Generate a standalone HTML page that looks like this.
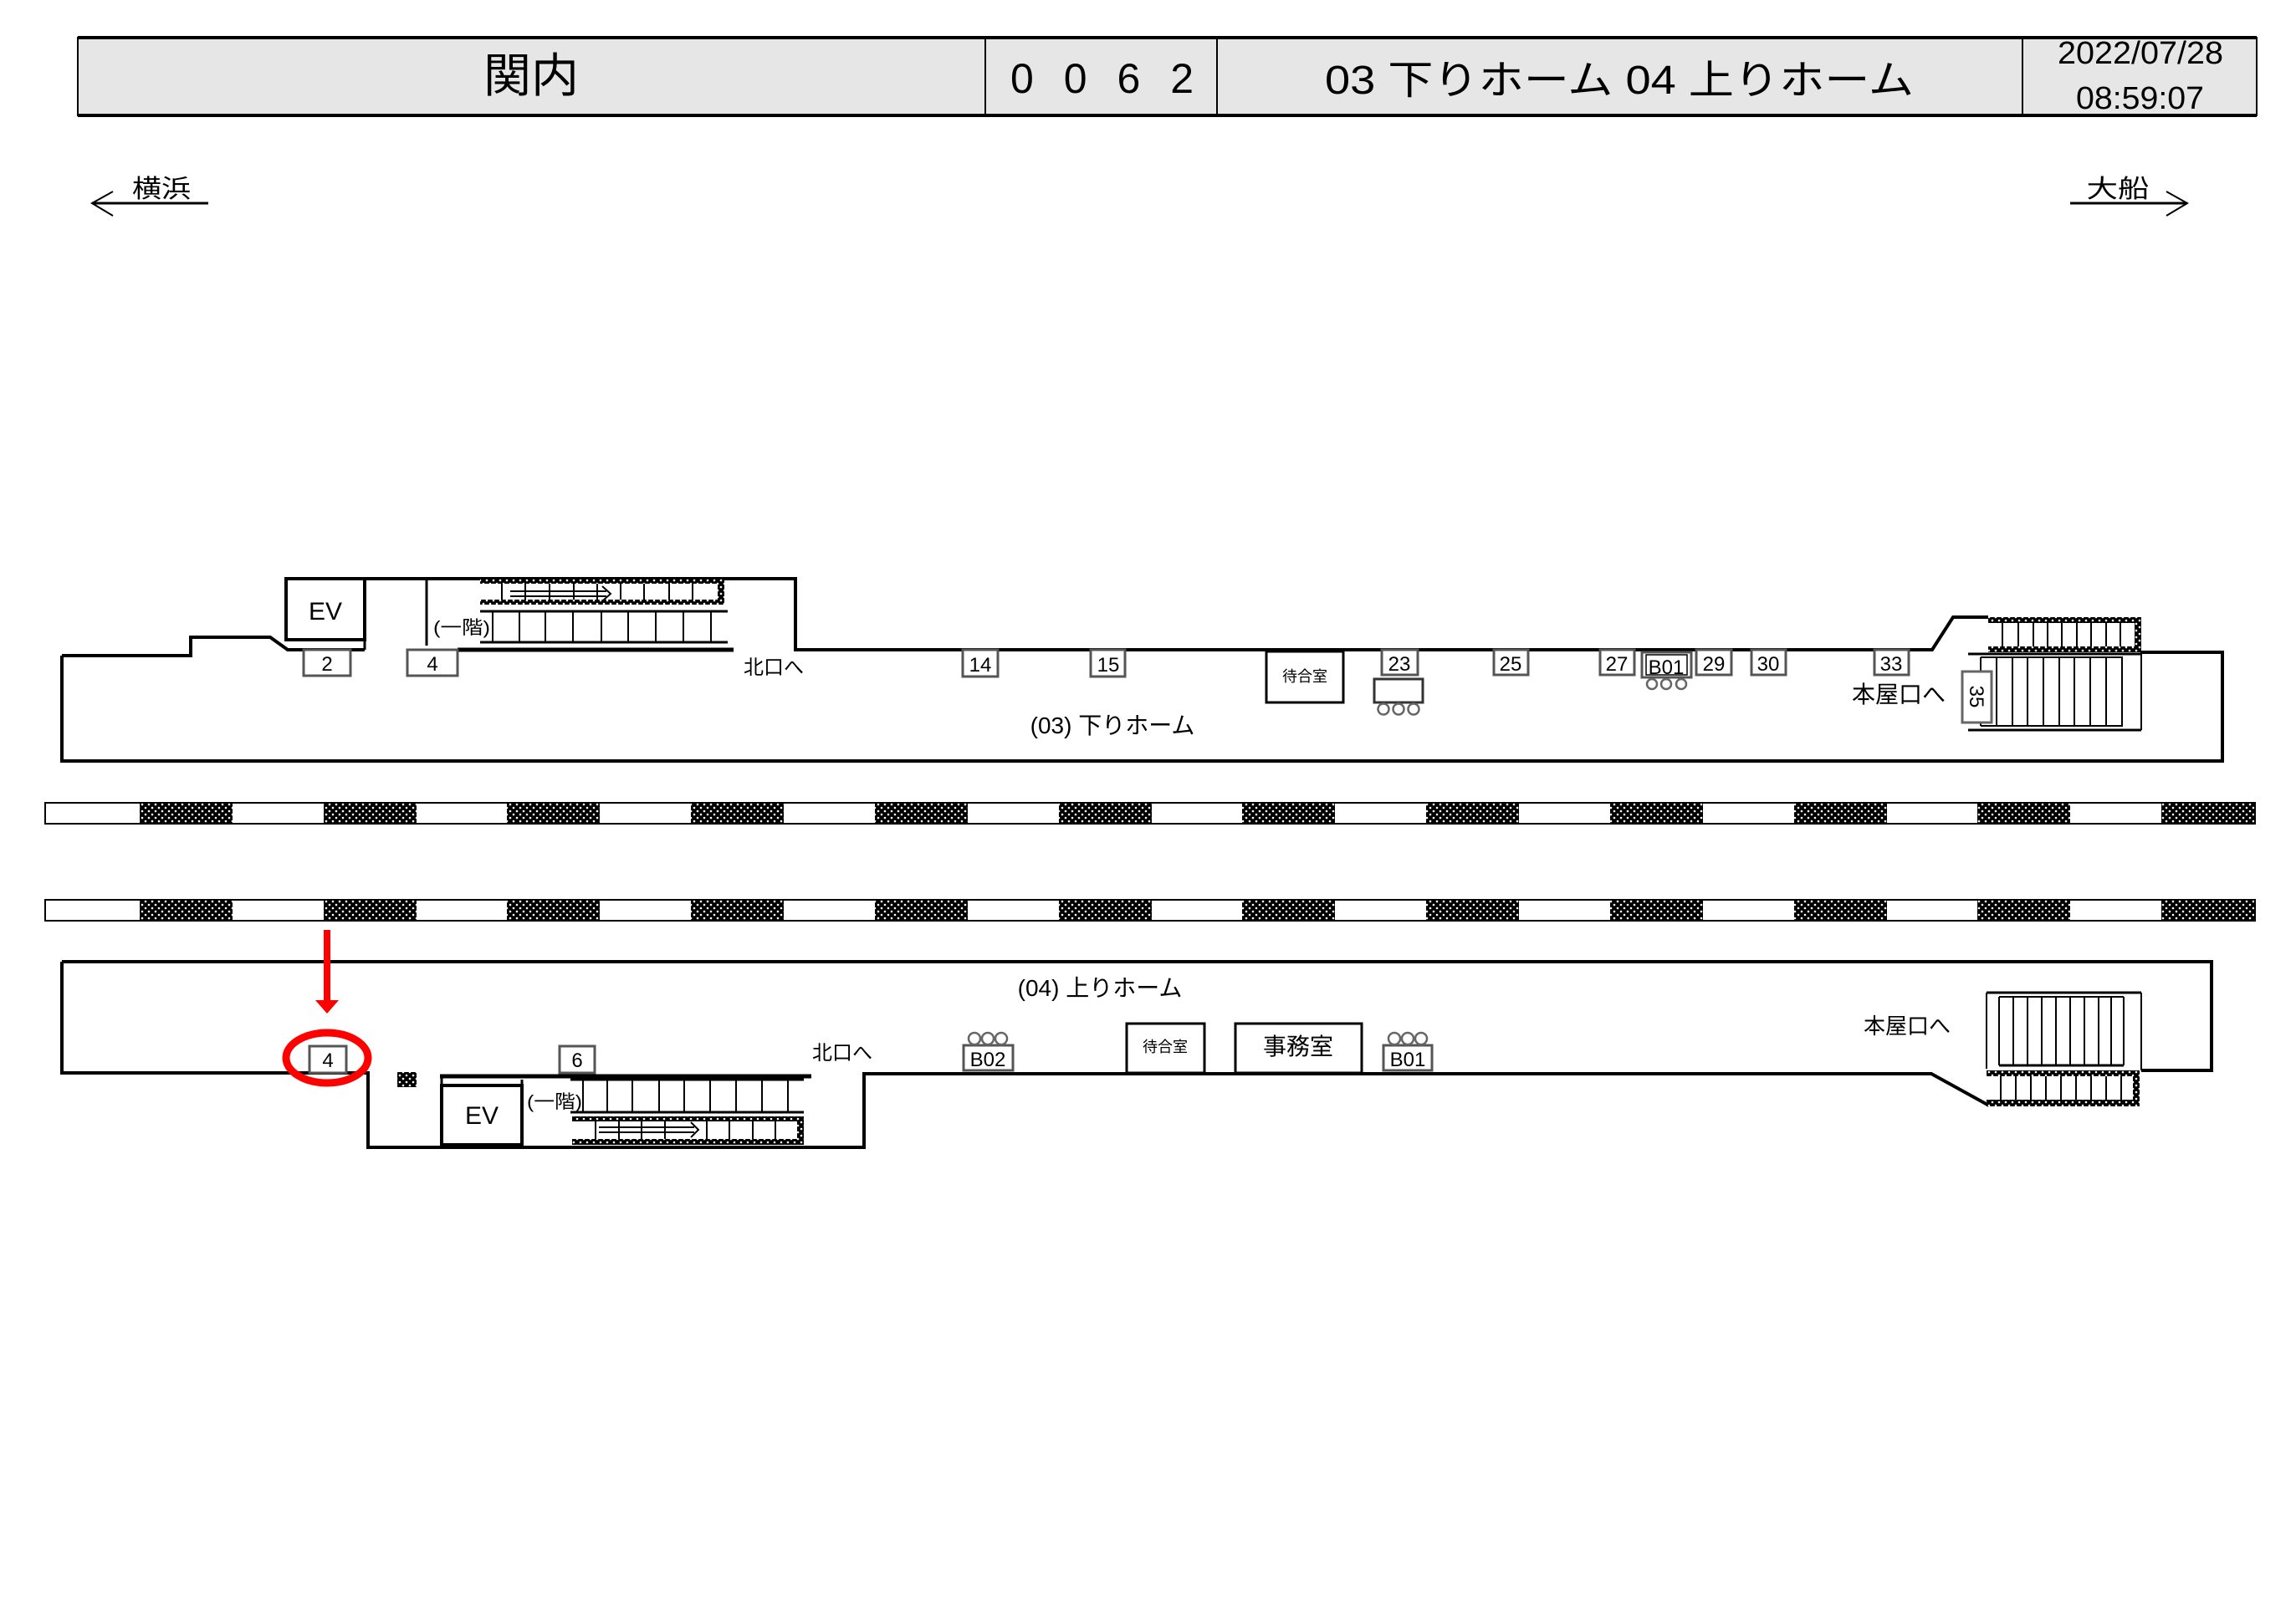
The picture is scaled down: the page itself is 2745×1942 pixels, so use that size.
<!DOCTYPE html>
<html><head><meta charset="utf-8"><style>
html,body{margin:0;padding:0;background:#fff}
svg{display:block}
text{font-family:"Liberation Sans","Noto Sans CJK JP",sans-serif;fill:#000}
</style></head><body>
<svg width="2745" height="1942" viewBox="0 0 2745 1942" xmlns="http://www.w3.org/2000/svg">
<defs>
<pattern id="dot" width="8" height="8" patternUnits="userSpaceOnUse">
<rect width="8" height="8" fill="#000"/><circle cx="2" cy="2" r="1.3" fill="#fff"/><circle cx="6" cy="6" r="1.3" fill="#fff"/>
</pattern>
</defs>
<!-- Header -->
<rect x="93" y="45" width="2605" height="93" fill="#e6e6e6" stroke="#000" stroke-width="2"/>
<line x1="93" y1="45" x2="2698" y2="45" stroke="#000" stroke-width="4"/>
<line x1="93" y1="138" x2="2698" y2="138" stroke="#000" stroke-width="4"/>
<line x1="1178" y1="45" x2="1178" y2="138" stroke="#000" stroke-width="2"/>
<line x1="1455" y1="45" x2="1455" y2="138" stroke="#000" stroke-width="2"/>
<line x1="2418" y1="45" x2="2418" y2="138" stroke="#000" stroke-width="2"/>
<text x="635" y="110" font-size="56" text-anchor="middle" textLength="114" lengthAdjust="spacingAndGlyphs">関内</text>
<text x="1208" y="111" font-size="50" textLength="219" lengthAdjust="spacing">0062</text>
<text x="1584" y="112" font-size="48" textLength="704" lengthAdjust="spacingAndGlyphs">03 下りホーム 04 上りホーム</text>
<text x="2460" y="76" font-size="38" textLength="198" lengthAdjust="spacingAndGlyphs">2022/07/28</text>
<text x="2482" y="130" font-size="38" textLength="153" lengthAdjust="spacingAndGlyphs">08:59:07</text>
<!-- direction arrows -->
<text x="193" y="236" font-size="30" text-anchor="middle" textLength="70" lengthAdjust="spacingAndGlyphs">横浜</text>
<polyline points="135,229 110,243 135,258" fill="none" stroke="#000" stroke-width="2"/>
<line x1="110" y1="243" x2="249" y2="243" stroke="#000" stroke-width="3"/>
<text x="2532" y="236" font-size="30" text-anchor="middle" textLength="75" lengthAdjust="spacingAndGlyphs">大船</text>
<polyline points="2590,229 2615,243 2590,258" fill="none" stroke="#000" stroke-width="2"/>
<line x1="2475" y1="243" x2="2615" y2="243" stroke="#000" stroke-width="3"/>

<!-- Upper platform outline -->
<polyline points="74,784 74,910 2657,910 2657,780 2560,780" fill="none" stroke="#000" stroke-width="4"/>
<polyline points="74,784 228,784 228,762 323,762 344,777 436,777" fill="none" stroke="#000" stroke-width="4"/>
<line x1="547" y1="777" x2="877" y2="777" stroke="#000" stroke-width="5"/>
<polyline points="342,692 951,692 951,777 2310,777 2335,738 2377,738" fill="none" stroke="#000" stroke-width="4"/>
<!-- EV upper -->
<rect x="342" y="692" width="94" height="73" fill="#fff" stroke="#000" stroke-width="4"/>
<line x1="342" y1="777" x2="436" y2="777" stroke="#000" stroke-width="3"/>
<line x1="436" y1="765" x2="436" y2="777" stroke="#000" stroke-width="3"/>
<text x="389" y="741" font-size="30" text-anchor="middle">EV</text>
<line x1="510" y1="692" x2="510" y2="772" stroke="#000" stroke-width="3"/>
<!-- upper escalator -->
<rect x="574" y="692" width="6" height="1" fill="#000"/>
<rect x="574" y="692" width="292" height="31" fill="none"/>
<rect x="574" y="692" width="292" height="6" fill="url(#dot)"/>
<rect x="574" y="717" width="292" height="6" fill="url(#dot)"/>
<rect x="858" y="692" width="8" height="31" fill="url(#dot)"/>
<g stroke="#000" stroke-width="2">
<line x1="600" y1="698" x2="600" y2="717"/><line x1="628" y1="698" x2="628" y2="717"/><line x1="657" y1="698" x2="657" y2="717"/><line x1="686" y1="698" x2="686" y2="717"/><line x1="714" y1="698" x2="714" y2="717"/><line x1="742" y1="698" x2="742" y2="717"/><line x1="770" y1="698" x2="770" y2="717"/><line x1="800" y1="698" x2="800" y2="717"/><line x1="828" y1="698" x2="828" y2="717"/>
<line x1="610" y1="707" x2="725" y2="707"/><line x1="610" y1="713" x2="725" y2="713"/>
<polyline points="720,701 730,710 720,719" fill="none"/>
<!-- stairs upper -->
<line x1="574" y1="731" x2="870" y2="731" stroke-width="3"/><line x1="574" y1="768" x2="870" y2="768" stroke-width="3"/>
<line x1="589" y1="731" x2="589" y2="768"/><line x1="621" y1="731" x2="621" y2="768"/><line x1="652" y1="731" x2="652" y2="768"/><line x1="685" y1="731" x2="685" y2="768"/><line x1="719" y1="731" x2="719" y2="768"/><line x1="751" y1="731" x2="751" y2="768"/><line x1="784" y1="731" x2="784" y2="768"/><line x1="817" y1="731" x2="817" y2="768"/><line x1="850" y1="731" x2="850" y2="768"/>
</g>
<text x="552" y="758" font-size="22" text-anchor="middle" textLength="68" lengthAdjust="spacingAndGlyphs">(一階)</text>
<text x="925" y="806" font-size="24" text-anchor="middle">北口へ</text>

<!-- upper signs -->
<g fill="#fff" stroke="#555" stroke-width="3">
<rect x="363" y="777" width="56" height="31"/><rect x="487" y="777" width="60" height="31"/>
<rect x="1151" y="777" width="42" height="32"/><rect x="1304" y="777" width="41" height="32"/>
<rect x="1652" y="777" width="43" height="30"/><rect x="1786" y="777" width="41" height="30"/>
<rect x="1913" y="777" width="41" height="30"/><rect x="1963" y="780" width="59" height="30"/>
<rect x="2028" y="777" width="42" height="30"/><rect x="2094" y="777" width="41" height="30"/>
<rect x="2241" y="777" width="41" height="30"/>
</g>
<rect x="1968" y="783" width="49" height="24" fill="none" stroke="#000" stroke-width="1.5"/>
<g font-size="24" text-anchor="middle">
<text x="391" y="802">2</text><text x="517" y="802">4</text>
<text x="1172" y="803">14</text><text x="1325" y="803">15</text>
<text x="1673" y="802">23</text><text x="1806" y="802">25</text>
<text x="1933" y="802">27</text><text x="1992" y="806">B01</text>
<text x="2049" y="802">29</text><text x="2114" y="802">30</text>
<text x="2261" y="802">33</text>
</g>
<!-- waiting room upper -->
<rect x="1514" y="779" width="92" height="61" fill="#fff" stroke="#000" stroke-width="3"/>
<text x="1560" y="815" font-size="18" text-anchor="middle">待合室</text>
<rect x="1643" y="812" width="58" height="28" fill="#fff" stroke="#333" stroke-width="3"/>
<g fill="#fff" stroke="#666" stroke-width="2.5">
<circle cx="1654" cy="848" r="6.5"/><circle cx="1672" cy="848" r="6.5"/><circle cx="1690" cy="848" r="6.5"/>
<circle cx="1975" cy="818" r="6"/><circle cx="1992" cy="818" r="6"/><circle cx="2010" cy="818" r="6"/>
</g>
<text x="1330" y="877" font-size="28" text-anchor="middle">(03) 下りホーム</text>
<text x="2270" y="840" font-size="28" text-anchor="middle">本屋口へ</text>
<!-- upper right escalator & stairs -->
<rect x="2377" y="738" width="183" height="7" fill="url(#dot)"/>
<rect x="2377" y="773" width="183" height="7" fill="url(#dot)"/>
<rect x="2552" y="738" width="8" height="42" fill="url(#dot)"/>
<g stroke="#000" stroke-width="2">
<line x1="2394" y1="745" x2="2394" y2="773"/><line x1="2413" y1="745" x2="2413" y2="773"/><line x1="2431" y1="745" x2="2431" y2="773"/><line x1="2448" y1="745" x2="2448" y2="773"/><line x1="2465" y1="745" x2="2465" y2="773"/><line x1="2483" y1="745" x2="2483" y2="773"/><line x1="2500" y1="745" x2="2500" y2="773"/><line x1="2518" y1="745" x2="2518" y2="773"/><line x1="2535" y1="745" x2="2535" y2="773"/>
<line x1="2353" y1="782" x2="2560" y2="782" stroke-width="3"/><line x1="2353" y1="873" x2="2560" y2="873" stroke-width="3"/><line x1="2560" y1="780" x2="2560" y2="873"/>
<polyline points="2368,786 2537,786 2537,868 2368,868" fill="none"/>
<line x1="2368" y1="786" x2="2368" y2="868"/>
<line x1="2387" y1="786" x2="2387" y2="868"/><line x1="2406" y1="786" x2="2406" y2="868"/><line x1="2424" y1="786" x2="2424" y2="868"/><line x1="2443" y1="786" x2="2443" y2="868"/><line x1="2462" y1="786" x2="2462" y2="868"/><line x1="2480" y1="786" x2="2480" y2="868"/><line x1="2499" y1="786" x2="2499" y2="868"/><line x1="2518" y1="786" x2="2518" y2="868"/>
</g>
<rect x="2346" y="803" width="35" height="61" fill="#fff" stroke="#666" stroke-width="3"/>
<text x="0" y="0" font-size="24" text-anchor="middle" transform="translate(2355,833) rotate(90)">35</text>

<!-- tracks -->
<rect x="54" y="960" width="2642" height="25" fill="#fff" stroke="#000" stroke-width="2"/>
<rect x="54" y="1076" width="2642" height="25" fill="#fff" stroke="#000" stroke-width="2"/>
<g fill="url(#dot)">
<rect x="167" y="960" width="111" height="25"/><rect x="387" y="960" width="111" height="25"/><rect x="606" y="960" width="111" height="25"/><rect x="826" y="960" width="111" height="25"/><rect x="1046" y="960" width="111" height="25"/><rect x="1266" y="960" width="111" height="25"/><rect x="1485" y="960" width="111" height="25"/><rect x="1705" y="960" width="111" height="25"/><rect x="1925" y="960" width="111" height="25"/><rect x="2145" y="960" width="111" height="25"/><rect x="2364" y="960" width="111" height="25"/><rect x="2584" y="960" width="111" height="25"/>
<rect x="167" y="1076" width="111" height="25"/><rect x="387" y="1076" width="111" height="25"/><rect x="606" y="1076" width="111" height="25"/><rect x="826" y="1076" width="111" height="25"/><rect x="1046" y="1076" width="111" height="25"/><rect x="1266" y="1076" width="111" height="25"/><rect x="1485" y="1076" width="111" height="25"/><rect x="1705" y="1076" width="111" height="25"/><rect x="1925" y="1076" width="111" height="25"/><rect x="2145" y="1076" width="111" height="25"/><rect x="2364" y="1076" width="111" height="25"/><rect x="2584" y="1076" width="111" height="25"/>
</g>

<!-- lower platform -->
<polyline points="74,1150 2644,1150 2644,1280 2560,1280" fill="none" stroke="#000" stroke-width="4"/>
<polyline points="74,1150 74,1283 440,1283 440,1372 1033,1372 1033,1284 2309,1284 2378,1322" fill="none" stroke="#000" stroke-width="4"/>
<line x1="526" y1="1287" x2="970" y2="1287" stroke="#000" stroke-width="5"/>
<rect x="475" y="1282" width="23" height="18" fill="url(#dot)"/>
<rect x="528" y="1298" width="96" height="71" fill="#fff" stroke="#000" stroke-width="4"/>
<line x1="528" y1="1287" x2="528" y2="1298" stroke="#000" stroke-width="3"/>
<line x1="624" y1="1291" x2="624" y2="1298" stroke="#000" stroke-width="3"/>
<text x="576" y="1344" font-size="30" text-anchor="middle">EV</text>
<text x="663" y="1325" font-size="22" text-anchor="middle" textLength="66" lengthAdjust="spacingAndGlyphs">(一階)</text>
<g stroke="#000" stroke-width="2">
<line x1="682" y1="1291" x2="961" y2="1291" stroke-width="3"/><line x1="682" y1="1330" x2="961" y2="1330" stroke-width="3"/>
<line x1="697" y1="1291" x2="697" y2="1330"/><line x1="726" y1="1291" x2="726" y2="1330"/><line x1="756" y1="1291" x2="756" y2="1330"/><line x1="788" y1="1291" x2="788" y2="1330"/><line x1="818" y1="1291" x2="818" y2="1330"/><line x1="849" y1="1291" x2="849" y2="1330"/><line x1="880" y1="1291" x2="880" y2="1330"/><line x1="911" y1="1291" x2="911" y2="1330"/><line x1="942" y1="1291" x2="942" y2="1330"/>
</g>
<rect x="684" y="1335" width="277" height="6" fill="url(#dot)"/>
<rect x="684" y="1362" width="277" height="7" fill="url(#dot)"/>
<rect x="953" y="1335" width="8" height="34" fill="url(#dot)"/>
<g stroke="#000" stroke-width="2">
<line x1="712" y1="1341" x2="712" y2="1362"/><line x1="740" y1="1341" x2="740" y2="1362"/><line x1="767" y1="1341" x2="767" y2="1362"/><line x1="795" y1="1341" x2="795" y2="1362"/><line x1="845" y1="1341" x2="845" y2="1362"/><line x1="872" y1="1341" x2="872" y2="1362"/><line x1="900" y1="1341" x2="900" y2="1362"/><line x1="927" y1="1341" x2="927" y2="1362"/>
<line x1="716" y1="1348" x2="830" y2="1348"/><line x1="716" y1="1354" x2="830" y2="1354"/>
<polyline points="826,1342 835,1351 826,1360" fill="none"/>
</g>
<g fill="#fff" stroke="#555" stroke-width="3">
<rect x="370" y="1251" width="44" height="32"/><rect x="669" y="1251" width="42" height="32"/>
<rect x="1152" y="1250" width="59" height="30"/><rect x="1654" y="1250" width="58" height="30"/>
</g>
<g font-size="24" text-anchor="middle">
<text x="392" y="1276">4</text><text x="690" y="1276">6</text>
<text x="1181" y="1275">B02</text><text x="1683" y="1275">B01</text>
</g>
<g fill="#fff" stroke="#666" stroke-width="2.5">
<circle cx="1165" cy="1242" r="7"/><circle cx="1181" cy="1242" r="7"/><circle cx="1197" cy="1242" r="7"/>
<circle cx="1667" cy="1242" r="7"/><circle cx="1683" cy="1242" r="7"/><circle cx="1699" cy="1242" r="7"/>
</g>
<rect x="1347" y="1224" width="93" height="59" fill="#fff" stroke="#000" stroke-width="3"/>
<text x="1393" y="1258" font-size="18" text-anchor="middle">待合室</text>
<rect x="1477" y="1224" width="151" height="59" fill="#fff" stroke="#000" stroke-width="3"/>
<text x="1552" y="1261" font-size="28" text-anchor="middle">事務室</text>
<text x="1007" y="1267" font-size="24" text-anchor="middle">北口へ</text>
<text x="1315" y="1191" font-size="28" text-anchor="middle">(04) 上りホーム</text>
<text x="2280" y="1236" font-size="26" text-anchor="middle">本屋口へ</text>
<!-- lower right stairs / escalator -->
<g stroke="#000" stroke-width="2">
<line x1="2375" y1="1187" x2="2560" y2="1187" stroke-width="3"/><line x1="2375" y1="1187" x2="2375" y2="1278"/><line x1="2560" y1="1187" x2="2560" y2="1280"/>
<line x1="2390" y1="1192" x2="2539" y2="1192"/><line x1="2390" y1="1274" x2="2539" y2="1274" stroke-width="3"/><line x1="2539" y1="1192" x2="2539" y2="1274"/>
<line x1="2390" y1="1192" x2="2390" y2="1274"/><line x1="2407" y1="1192" x2="2407" y2="1274"/><line x1="2424" y1="1192" x2="2424" y2="1274"/><line x1="2441" y1="1192" x2="2441" y2="1274"/><line x1="2458" y1="1192" x2="2458" y2="1274"/><line x1="2475" y1="1192" x2="2475" y2="1274"/><line x1="2492" y1="1192" x2="2492" y2="1274"/><line x1="2509" y1="1192" x2="2509" y2="1274"/><line x1="2524" y1="1192" x2="2524" y2="1274"/>
</g>
<rect x="2375" y="1280" width="183" height="7" fill="url(#dot)"/>
<rect x="2375" y="1315" width="183" height="8" fill="url(#dot)"/>
<rect x="2550" y="1280" width="8" height="43" fill="url(#dot)"/>
<g stroke="#000" stroke-width="2">
<line x1="2392" y1="1287" x2="2392" y2="1315"/><line x1="2410" y1="1287" x2="2410" y2="1315"/><line x1="2428" y1="1287" x2="2428" y2="1315"/><line x1="2446" y1="1287" x2="2446" y2="1315"/><line x1="2464" y1="1287" x2="2464" y2="1315"/><line x1="2482" y1="1287" x2="2482" y2="1315"/><line x1="2500" y1="1287" x2="2500" y2="1315"/><line x1="2518" y1="1287" x2="2518" y2="1315"/><line x1="2536" y1="1287" x2="2536" y2="1315"/>
</g>
<!-- red marker -->
<rect x="387" y="1112" width="8" height="86" fill="#f00"/>
<polygon points="377,1196 405,1196 391,1212" fill="#f00"/>
<ellipse cx="391" cy="1265" rx="49" ry="30" fill="none" stroke="#f00" stroke-width="9"/>
</svg>
</body></html>
